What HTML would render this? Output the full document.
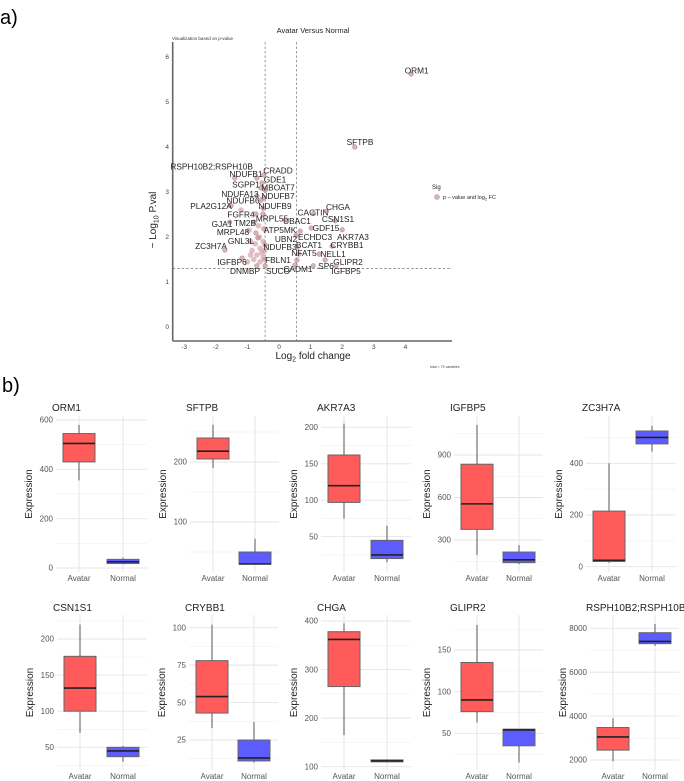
<!DOCTYPE html>
<html><head><meta charset="utf-8">
<style>
html,body{margin:0;padding:0;background:#fff;}
svg{display:block;font-family:"Liberation Sans",sans-serif;}
</style></head>
<body>
<svg id="fig" width="684" height="781" viewBox="0 0 684 781" xmlns="http://www.w3.org/2000/svg">
<text x="0" y="24" font-size="20" fill="#000">a)</text>
<text x="2" y="392" font-size="20" fill="#000">b)</text>
<g id="volcano"></g>
<g id="boxes"></g>
</svg>
<script>
// ---------- Volcano data ----------
const genes = ["ORM1","SFTPB","RSPH10B2;RSPH10B","NDUFB1","CRADD","GDE1","SGPP1","MBOAT7","NDUFA13","NDUFB7","NDUFB6","PLA2G12A","NDUFB9","FGFR4","MRPL55","CACTIN","CHGA","CSN1S1","UBAC1","GJA1","TM2B","GDF15","ATP5MK","MRPL48","ECHDC3","AKR7A3","UBN2","GNL3L","ZC3H7A","NDUFB3","BCAT1","CRYBB1","NFAT5","NELL1","FBLN1","GLIPR2","IGFBP6","SP6","CADM1","IGFBP5","DNMBP","SUCO"];
const log2fc = [4.18,2.40,-1.40,-0.70,-0.48,-0.54,-0.57,-0.44,-0.70,-0.48,-0.57,-1.52,-0.51,-0.73,-0.51,1.10,1.50,1.78,0.21,-1.56,-0.79,1.02,-0.48,-0.73,0.67,2.00,0.54,-0.67,-1.71,-0.44,0.57,1.68,0.63,1.27,0.57,1.46,-1.17,1.08,0.51,1.81,-0.70,-0.44];
const negLog10p = [5.62,4.00,3.31,3.31,3.38,3.20,3.09,3.04,2.91,2.87,2.82,2.69,2.64,2.51,2.51,2.52,2.57,2.36,2.38,2.33,2.33,2.20,2.18,2.09,2.13,2.16,2.04,1.98,1.71,1.82,1.76,1.80,1.62,1.62,1.49,1.49,1.53,1.36,1.38,1.36,1.36,1.36];
const extraFc = [-0.9,-0.85,-0.6,-0.55,-0.5,-0.8,-1.0,-0.6,-0.45,-0.5,-0.95,-0.65,-1.2,-0.9,-0.7,-0.45,-0.62,-0.75];
const extraP = [1.9,1.7,1.75,1.65,1.55,1.5,1.45,1.45,1.7,1.9,2.15,2.25,2.6,1.6,1.6,1.5,2.0,1.85];
const xTicks = [-3,-2,-1,0,1,2,3,4];
const yTicks = [0,1,2,3,4,5,6];
const fcCut = [-0.44,0.55];
const pCut = [1.3];
// label placement (layout, pixel centers)
const labelX = [416.7,360,211.7,246,278,275,246,278,240,278,243,211,275,241,272,313,338,338,297,222,245,326,280,233,315,353,286,241,211,280,309,347,304,333,278,348,232,326,298,346,245,278];
const labelY = [70.7,142,166.7,174,170.7,179.7,184.7,187.7,194,196,200.7,206,206,214.7,218.7,212.7,207,219,221,224,223,228,230,232,237,237,239,241,246,247,245,245,253,254,260,262,262,266,269,271,271,271];

const NS="http://www.w3.org/2000/svg";
function mk(tag,attrs,parent){const e=document.createElementNS(NS,tag);for(const k in attrs)e.setAttribute(k,attrs[k]);parent.appendChild(e);return e;}
const V=document.getElementById('volcano');
const vx=v=>279+31.6*v, vy=v=>327-45*v;
const axL=172.7, axR=452, axT=42, axB=341;

let t=mk('text',{x:313,y:33,'font-size':7.5,'text-anchor':'middle',fill:'#222'},V);t.textContent="Avatar Versus Normal";


t=mk('text',{x:172,y:40,'font-size':4.5,fill:'#333'},V);t.textContent="Visualization based on p-value";



fcCut.forEach(c=>{const l=mk('line',{x1:vx(c),x2:vx(c),y1:axT,y2:axB,stroke:'#777','stroke-width':0.7,'stroke-dasharray':'2.5,2'},V);

});
pCut.forEach(c=>{const l=mk('line',{x1:axL,x2:axR,y1:vy(c),y2:vy(c),stroke:'#777','stroke-width':0.7,'stroke-dasharray':'2.5,2'},V);

});

let a=mk('line',{x1:axL,x2:axL,y1:axT,y2:axB,stroke:'#666','stroke-width':1.6},V);


a=mk('line',{x1:axL,x2:axR,y1:axB,y2:axB,stroke:'#666','stroke-width':1.6},V);


xTicks.forEach(v=>{const e=mk('text',{x:vx(v),y:349,'font-size':6.5,'text-anchor':'middle',fill:'#444'},V);e.textContent=v;

});
yTicks.forEach(v=>{const e=mk('text',{x:169,y:vy(v)+2.2,'font-size':6.5,'text-anchor':'end',fill:'#444'},V);e.textContent=v;

});
t=mk('text',{x:313,y:359,'font-size':10,'text-anchor':'middle',fill:'#222'},V);
t.innerHTML='Log<tspan font-size="7" dy="2.5">2</tspan><tspan dy="-2.5"> fold change</tspan>';


t=mk('text',{x:0,y:0,'font-size':10,'text-anchor':'middle',fill:'#222',transform:'translate(156,220) rotate(-90)'},V);
t.innerHTML='− Log<tspan font-size="7" dy="2.5">10</tspan><tspan dy="-2.5"> P.val</tspan>';


t=mk('text',{x:430,y:368,'font-size':3.5,fill:'#444'},V);t.textContent="total = 73 variables";


// legend
t=mk('text',{x:432,y:189,'font-size':6,fill:'#222'},V);t.textContent="Sig";


let lc=mk('circle',{cx:437,cy:197,r:2.5,fill:'#c9959a','fill-opacity':0.7,stroke:'#a07078','stroke-width':0.4},V);


t=mk('text',{x:443,y:199,'font-size':5.5,fill:'#222'},V);
t.innerHTML='p – value and log<tspan font-size="4" dy="1.5">2</tspan><tspan dy="-1.5"> FC</tspan>';



extraFc.forEach((f,i)=>{const c=mk('circle',{cx:vx(f),cy:vy(extraP[i]),r:2.8,fill:'#c48a93','fill-opacity':0.55},V);

});
genes.forEach((g,i)=>{
  const px=vx(log2fc[i]),py=vy(negLog10p[i]);
  const c=mk('circle',{cx:px,cy:py,r:2.3,fill:'#c48a93','fill-opacity':0.65,stroke:'#9a6a72','stroke-width':0.4},V);
  
  
  const e=mk('text',{x:labelX[i],y:labelY[i]+3,'font-size':8.3,'text-anchor':'middle',fill:'#222'},V);
  e.textContent=g;
  
  
});

// ---------- Boxplot data ----------
const panelNames = ["ORM1","SFTPB","AKR7A3","IGFBP5","ZC3H7A","CSN1S1","CRYBB1","CHGA","GLIPR2","RSPH10B2;RSPH10B"];
// [whiskerLow, q1, median, q3, whiskerHigh]
const avatarStats = [[355,430,505,545,580],[190,205,218,240,262],[75,97,120,162,205],[195,375,555,835,1112],[15,20,25,215,400],[70,100,132,176,220],[33,43,54,78,102],[165,265,362,378,395],[63,76,90,135,180],[1950,2450,3050,3480,3900]];
const normalStats = [[15,18,25,35,42],[30,30,30,50,72],[15,20,25,45,65],[130,140,160,215,265],[445,475,500,525,545],[30,37,45,50,52],[10,11,13,25,37],[109,110,112,114,115],[15,35,54,55,55],[7200,7300,7400,7800,8200]];
const panelTicks = [[0,200,400,600],[100,200],[50,100,150,200],[300,600,900],[0,200,400],[50,100,150,200],[25,50,75,100],[100,200,300,400],[50,100,150],[2000,4000,6000,8000]];
const groupLabels = ["Avatar","Normal"];
// layout: scale anchors [v1,y1,v2,y2], x centres, plot vertical extents
const anchors = [[600,420,0,568],[200,462,100,522],[200,427.3,50,536.7],[900,455,300,540],[400,463.3,0,566.7],[200,639,50,747.3],[100,627.7,25,740],[400,621,100,766.7],[150,650,50,733.3],[8000,628.3,2000,760]];
const centres = [[79,123],[213,255],[344,387],[477,519],[609,652],[80,123],[212,254],[344,387],[477,519],[613,655]];
const rowTop=[416,615], rowBot=[572,770], titleY=[411,611], labY=[581,779];

const B=document.getElementById('boxes');
panelNames.forEach((nm,p)=>{
  const row=p<5?0:1;
  const [v1,y1,v2,y2]=anchors[p];
  const sy=v=>y1+(v-v1)*(y2-y1)/(v2-v1);
  const inv=y=>v1+(y-y1)*(v2-v1)/(y2-y1);
  const [ax,nx]=centres[p];
  const L=ax-23,R=nx+24,T=rowTop[row],Bt=rowBot[row];
  const g=mk('g',{},B);
  
  
  const ticks=panelTicks[p];
  const step=ticks.length>1?ticks[1]-ticks[0]:100;
  const vmin=Math.min(inv(T),inv(Bt)),vmax=Math.max(inv(T),inv(Bt));
  for(let v=ticks[0]-step*4;v<=vmax;v+=step/2){
    if(v<vmin)continue;
    const major=ticks.includes(v);
    const gl=mk('line',{x1:L,x2:R,y1:sy(v),y2:sy(v),stroke:major?'#e4e4e4':'#f1f1f1','stroke-width':major?0.9:0.7},g);
    
    
  }
  [ax,nx].forEach(x=>{const gl=mk('line',{x1:x,x2:x,y1:T,y2:Bt,stroke:'#e4e4e4','stroke-width':0.9},g);
    
    });
  ticks.forEach(v=>{const e=mk('text',{x:L-3,y:sy(v)+2.7,'font-size':8,'text-anchor':'end',fill:'#555'},g);e.textContent=v;
    
    });
  let tt=mk('text',{x:L-4,y:titleY[row],'font-size':10,fill:'#222'},g);tt.textContent=nm;
  
  
  tt=mk('text',{x:0,y:0,'font-size':10,'text-anchor':'middle',fill:'#222',transform:`translate(${ax-47},${(T+Bt)/2}) rotate(-90)`},g);tt.textContent="Expression";
  
  
  [[ax,avatarStats[p],'#ff5b5b'],[nx,normalStats[p],'#5c5cff']].forEach(([x,s,col],k)=>{
    const w=16;
    const wl=mk('line',{x1:x,x2:x,y1:sy(s[0]),y2:sy(s[4]),stroke:'#555','stroke-width':1},g);
    
    
    const top=Math.min(sy(s[1]),sy(s[3]));
    const r=mk('rect',{x:x-w,y:top,width:2*w,height:Math.max(1,Math.abs(sy(s[3])-sy(s[1]))),fill:col,stroke:'#666','stroke-width':1},g);
    
    
    const md=mk('line',{x1:x-w,x2:x+w,y1:sy(s[2]),y2:sy(s[2]),stroke:'#222','stroke-width':1.6},g);
    
    
    const xl=mk('text',{x:x,y:labY[row],'font-size':8,'text-anchor':'middle',fill:'#555'},g);xl.textContent=groupLabels[k];
    
    
  });
});
</script>
</body></html>
